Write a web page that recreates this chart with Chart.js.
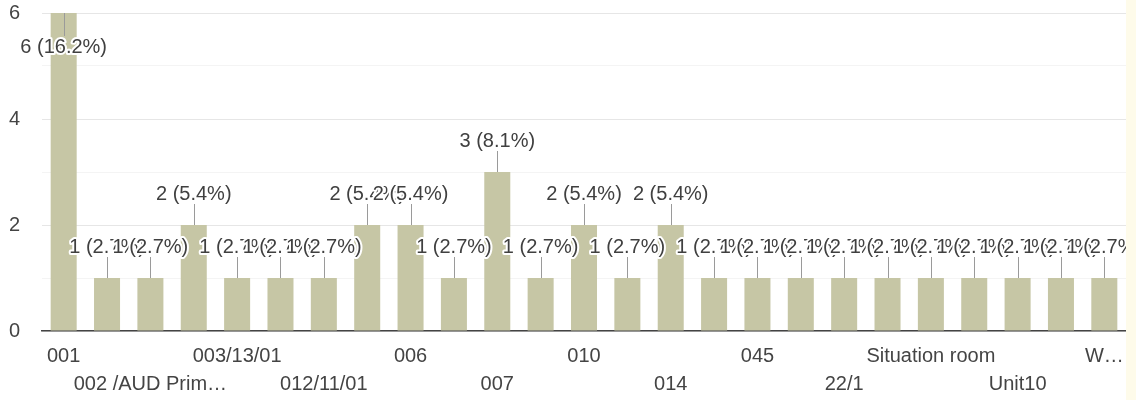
<!DOCTYPE html>
<html>
<head>
<meta charset="utf-8">
<script src="https://cdn.jsdelivr.net/npm/chart.js@4.4.1/dist/chart.umd.min.js"></script>
<style>
    html, body { margin: 0; padding: 0; background: #ffffff; }
    #wrap { position: relative; width: 1136px; height: 400px; }
    #faixa { position: absolute; left: 1126px; top: 0; width: 10px; height: 400px; background: #fefbea; }
</style>
</head>
<body>
<div id="wrap">
    <canvas id="graficoSalas" width="1136" height="400"></canvas>
    <div id="faixa"></div>
</div>
<script>
// respostas por sala (só metade dos nomes aparece no eixo)
const categorias = [
    '001', '001A', '002 /AUD Prim…', '003', '003/13/01', '004', '012/11/01', '005',
    '006', '006A', '007', '008', '010', '011', '014', '020', '045', '1', '22/1', '3',
    'Situation room', 'Unit 1', 'Unit10', 'Unit9', 'W…'
];
const respostas = [6, 1, 1, 2, 1, 1, 1, 2, 2, 1, 3, 1, 2, 1, 2, 1, 1, 1, 1, 1, 1, 1, 1, 1, 1];
const ticksY = [0, 2, 4, 6];

const total = respostas.reduce((a, b) => a + b, 0);
const fonte = 'Arial, "Liberation Sans", sans-serif';

// rótulo "n (x%)" com haste, igual ao Google Forms
const rotulosBarras = {
    id: 'rotulosBarras',
    afterDatasetsDraw(chart) {
        const ctx = chart.ctx;
        const area = chart.chartArea;
        const meta = chart.getDatasetMeta(0);
        ctx.save();
        ctx.font = '20px ' + fonte;
        ctx.textAlign = 'center';
        ctx.textBaseline = 'middle';
        ctx.lineJoin = 'round';
        meta.data.forEach((barra, i) => {
            const v = respostas[i];
            const pct = (v / total * 100).toFixed(1);
            const texto = `${v} (${pct}%)`;
            let yTexto = barra.y - 31;
            let yHaste = barra.y - 21;
            if (yTexto - 10 < area.top) {
                yTexto = barra.y + 34;
                yHaste = barra.y + 23;
            }
            ctx.strokeStyle = '#9a9a9a';
            ctx.lineWidth = 1;
            ctx.beginPath();
            ctx.moveTo(Math.round(barra.x) + 0.5, barra.y);
            ctx.lineTo(Math.round(barra.x) + 0.5, yHaste);
            ctx.stroke();
            ctx.strokeStyle = '#ffffff';
            ctx.lineWidth = 4;
            ctx.strokeText(texto, barra.x, yTexto);
            ctx.fillStyle = '#404040';
            ctx.fillText(texto, barra.x, yTexto);
        });
        ctx.restore();
    }
};

new Chart(document.getElementById('graficoSalas'), {
    type: 'bar',
    data: {
        labels: categorias,
        datasets: [{
            data: respostas,
            backgroundColor: '#c6c6a5',
            barPercentage: 0.6,
            categoryPercentage: 1.0
        }]
    },
    options: {
        responsive: false,
        animation: false,
        layout: { padding: { top: 13, right: 10, left: 0, bottom: 0 } },
        plugins: {
            legend: { display: false },
            tooltip: { enabled: false }
        },
        scales: {
            x: {
                grid: { display: false, drawTicks: false },
                border: { display: true, color: '#444444', width: 1.5 },
                afterFit: (escala) => { escala.height = 69; },
                ticks: {
                    autoSkip: false,
                    maxRotation: 0,
                    padding: 11,
                    color: '#444444',
                    font: { family: fonte, size: 20, lineHeight: 28 / 20 },
                    callback: function(valor, i) {
                        if (i % 4 === 0) return categorias[i];
                        if (i % 4 === 2) return ['', categorias[i]];
                        return '';
                    }
                }
            },
            y: {
                min: 0,
                max: 6,
                afterFit: (escala) => {
                    escala.width = 42;
                    escala.paddingTop = 0;
                    escala.paddingBottom = 0;
                },
                border: { display: false },
                grid: {
                    drawTicks: false,
                    color: (c) => (c.tick && c.tick.value % 2 === 0) ? '#e6e6e6' : '#f4f4f4'
                },
                ticks: {
                    stepSize: 1,
                    padding: 22,
                    color: '#444444',
                    font: { family: fonte, size: 20 },
                    callback: (valor) => ticksY.includes(valor) ? valor : ''
                }
            }
        }
    },
    plugins: [rotulosBarras]
});
</script>
</body>
</html>
